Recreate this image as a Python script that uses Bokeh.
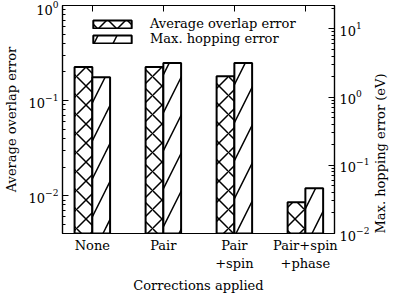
import math
from bokeh.plotting import figure
from bokeh.models import (Range1d, LogScale, LogAxis, LinearAxis, FixedTicker,
                          Legend, LegendItem, ColumnDataSource)
from bokeh.transform import dodge
from bokeh.embed import file_html
from bokeh.resources import INLINE

categories = ["None", "Pair", "Pair\n+spin", "Pair+spin\n+phase"]
overlap_error = [0.225, 0.225, 0.180, 0.0085]
hopping_error = [1.96, 3.15, 3.15, 0.046]

x = list(range(len(categories)))
src = ColumnDataSource(dict(x=x, overlap=overlap_error, hop=hopping_error))

FONT = "DejaVu Serif"
FS = "13px"

p = figure(frame_width=272, frame_height=228, output_backend="svg",
           toolbar_location=None,
           x_range=Range1d(-0.42, 3.41), y_range=Range1d(0.004, 1),
           y_axis_type="log", x_axis_type=None,
           min_border_left=52, min_border_right=0, min_border_top=5,
           min_border_bottom=0)
p.extra_y_ranges = {"hop": Range1d(0.01, 22)}
p.extra_y_scales = {"hop": LogScale()}
p.xgrid.visible = False
p.ygrid.visible = False
p.outline_line_color = "black"
p.outline_line_width = 1.2
p.background_fill_color = "white"
p.border_fill_color = "white"

def style_axis(ax):
    ax.axis_line_color = "black"
    ax.axis_line_width = 1.2
    ax.major_tick_line_color = "black"
    ax.minor_tick_line_color = "black"
    ax.major_tick_in = 6
    ax.major_tick_out = 0
    ax.minor_tick_in = 3
    ax.minor_tick_out = 0
    ax.major_label_text_font = FONT
    ax.major_label_text_font_size = FS
    ax.major_label_text_color = "black"
    ax.axis_label_text_font = FONT
    ax.axis_label_text_font_size = FS
    ax.axis_label_text_font_style = "normal"
    ax.axis_label_text_color = "black"

# bottom categorical axis
xb = LinearAxis(ticker=FixedTicker(ticks=x),
                major_label_overrides={i: c for i, c in zip(x, categories)},
                axis_label="Corrections applied")
style_axis(xb)
xb.major_label_standoff = 4
xb.axis_label_standoff = 4
p.add_layout(xb, "below")

# top mirrored ticks (no labels)
xt = LinearAxis(ticker=FixedTicker(ticks=x),
                major_label_overrides={i: "" for i in x})
style_axis(xt)
xt.major_label_standoff = 0
xt.axis_label_standoff = 0
p.add_layout(xt, "above")

# left log axis
ly = p.yaxis[0]
style_axis(ly)
ly.axis_label = "Average overlap error"
left_major = [0.01, 0.1, 1.0]
ly.ticker = FixedTicker(ticks=left_major,
                        minor_ticks=[m * d for d in [0.001, 0.01, 0.1] for m in range(2, 10)])
ly.major_label_standoff = 4
ly.axis_label_standoff = 7

# right log axis
ry = LogAxis(y_range_name="hop", axis_label="Max. hopping error (eV)")
style_axis(ry)
aligned = False
if "axis_label_align" in ry.properties():
    try:
        ry.axis_label_align = "start"
        ry.axis_label_orientation = math.pi / 2
        aligned = True
    except Exception:
        aligned = False
if not aligned:
    ry.axis_label_orientation = "vertical"
right_major = [0.01, 0.1, 1.0, 10.0]
ry.ticker = FixedTicker(ticks=right_major,
                        minor_ticks=[m * d for d in [0.01, 0.1, 1.0, 10.0] for m in range(2, 10)])
ry.major_label_standoff = 5
ry.axis_label_standoff = 8
p.add_layout(ry, "right")

r1 = p.vbar(x=dodge("x", -0.125, range=p.x_range), top="overlap", bottom=1e-4,
            width=0.25, source=src, fill_color="white", line_color="black",
            line_width=2, hatch_pattern="diagonal_cross", hatch_scale=19,
            hatch_weight=1.5, hatch_color="black")
r2 = p.vbar(x=dodge("x", 0.125, range=p.x_range), top="hop", bottom=1e-4,
            width=0.25, source=src, y_range_name="hop", fill_color="white",
            line_color="black", line_width=2, hatch_pattern="right_diagonal_line",
            hatch_scale=38, hatch_weight=1.5, hatch_color="black")

legend = Legend(items=[LegendItem(label="Average overlap error", renderers=[r1]),
                       LegendItem(label="Max. hopping error", renderers=[r2])],
                location=(26, 187), glyph_width=48, glyph_height=10,
                label_height=10, label_standoff=14, padding=0, margin=0,
                spacing=0, border_line_alpha=0, background_fill_alpha=0,
                label_text_font=FONT, label_text_font_size=FS,
                label_text_color="black")
p.add_layout(legend)

open("out.html", "w").write(file_html(p, INLINE))
